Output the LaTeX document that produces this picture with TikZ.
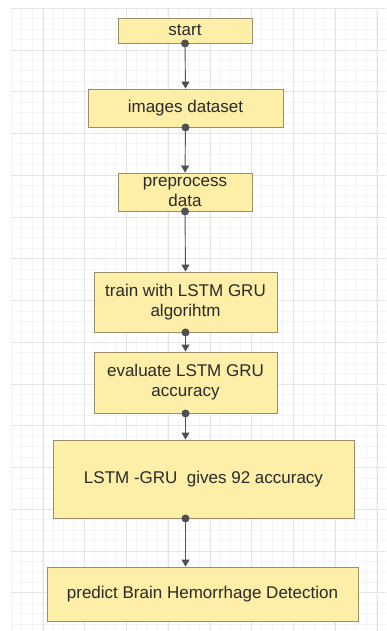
\documentclass[tikz,border=0pt]{standalone}
\usepackage{fontspec}
\setmainfont{Liberation Sans}
\usetikzlibrary{arrows.meta,calc}
\definecolor{boxfill}{HTML}{FDEEA8}
\definecolor{boxline}{HTML}{9A8E6A}
\definecolor{txt}{HTML}{2A2A2A}
\definecolor{edge}{HTML}{505050}
\definecolor{gridmajor}{HTML}{E4E4E4}
\definecolor{gridminor}{HTML}{F4F4F4}
\tikzset{
  flowbox/.style={draw=boxline, fill=boxfill, line width=0.9pt, inner sep=0pt,
    text=txt, align=center, font=\fontsize{17}{20}\selectfont},
  flowedge/.style={draw=edge, line width=0.9pt, -{Triangle[length=7pt,width=8pt]}},
  flowdot/.style={fill=edge, draw=none}
}
\begin{document}
\begin{tikzpicture}[x=1pt,y=-1pt]
\useasboundingbox (0,0) rectangle (386,631);
\fill[white] (0,0) rectangle (386,631);
% grid
\foreach \i in {0,...,36} {
  \draw[gridminor, line width=0.5pt] ({11+\i*10.44},8) -- ({11+\i*10.44},631);
}
\foreach \j in {0,...,59} {
  \draw[gridminor, line width=0.5pt] (11,{8+\j*10.44}) -- (386,{8+\j*10.44});
}
\foreach \i in {0,...,8} {
  \draw[gridmajor, line width=0.7pt] ({43+\i*41.75},8) -- ({43+\i*41.75},631);
}
\foreach \j in {-1,...,14} {
  \draw[gridmajor, line width=0.7pt] (11,{50+\j*41.75}) -- (386,{50+\j*41.75});
}
% nodes
\node[flowbox, minimum width=134pt, minimum height=25pt] (start) at (185,30.5) {start};
\node[flowbox, minimum width=195pt, minimum height=38pt] (images) at (185.5,108) {images dataset};
\node[flowbox, minimum width=134pt, minimum height=38pt] (prep) at (185,192) {preprocess\\data};
\node[flowbox, minimum width=183pt, minimum height=60pt] (train) at (185.5,302) {train with LSTM GRU\\algorihtm};
\node[flowbox, minimum width=183pt, minimum height=61pt] (eval) at (185.5,382.5) {evaluate LSTM GRU\\accuracy};
\node[flowbox, minimum width=301pt, minimum height=78pt] (gives) at (203.5,479) {LSTM -GRU\ \ gives 92 accuracy};
\node[flowbox, minimum width=311pt, minimum height=54pt] (predict) at (202.5,594) {predict Brain Hemorrhage Detection};
% connectors
\coordinate (g1) at (gives.south -| eval.south);
\coordinate (p1) at (predict.north -| eval.south);
\draw[flowedge] (start.south) -- (images.north);
\draw[flowedge] (images.south) -- (prep.north);
\draw[flowedge] (prep.south) -- (train.north);
\draw[flowedge] (train.south) -- (eval.north);
\draw[flowedge] (eval.south) -- (gives.north -| eval.south);
\draw[flowedge] (g1) -- (p1);
\fill[flowdot] (start.south) circle (4pt);
\fill[flowdot] (images.south) circle (4pt);
\fill[flowdot] (prep.south) circle (4pt);
\fill[flowdot] (train.south) circle (4pt);
\fill[flowdot] (eval.south) circle (4pt);
\fill[flowdot] (g1) circle (4pt);
\end{tikzpicture}
\end{document}
